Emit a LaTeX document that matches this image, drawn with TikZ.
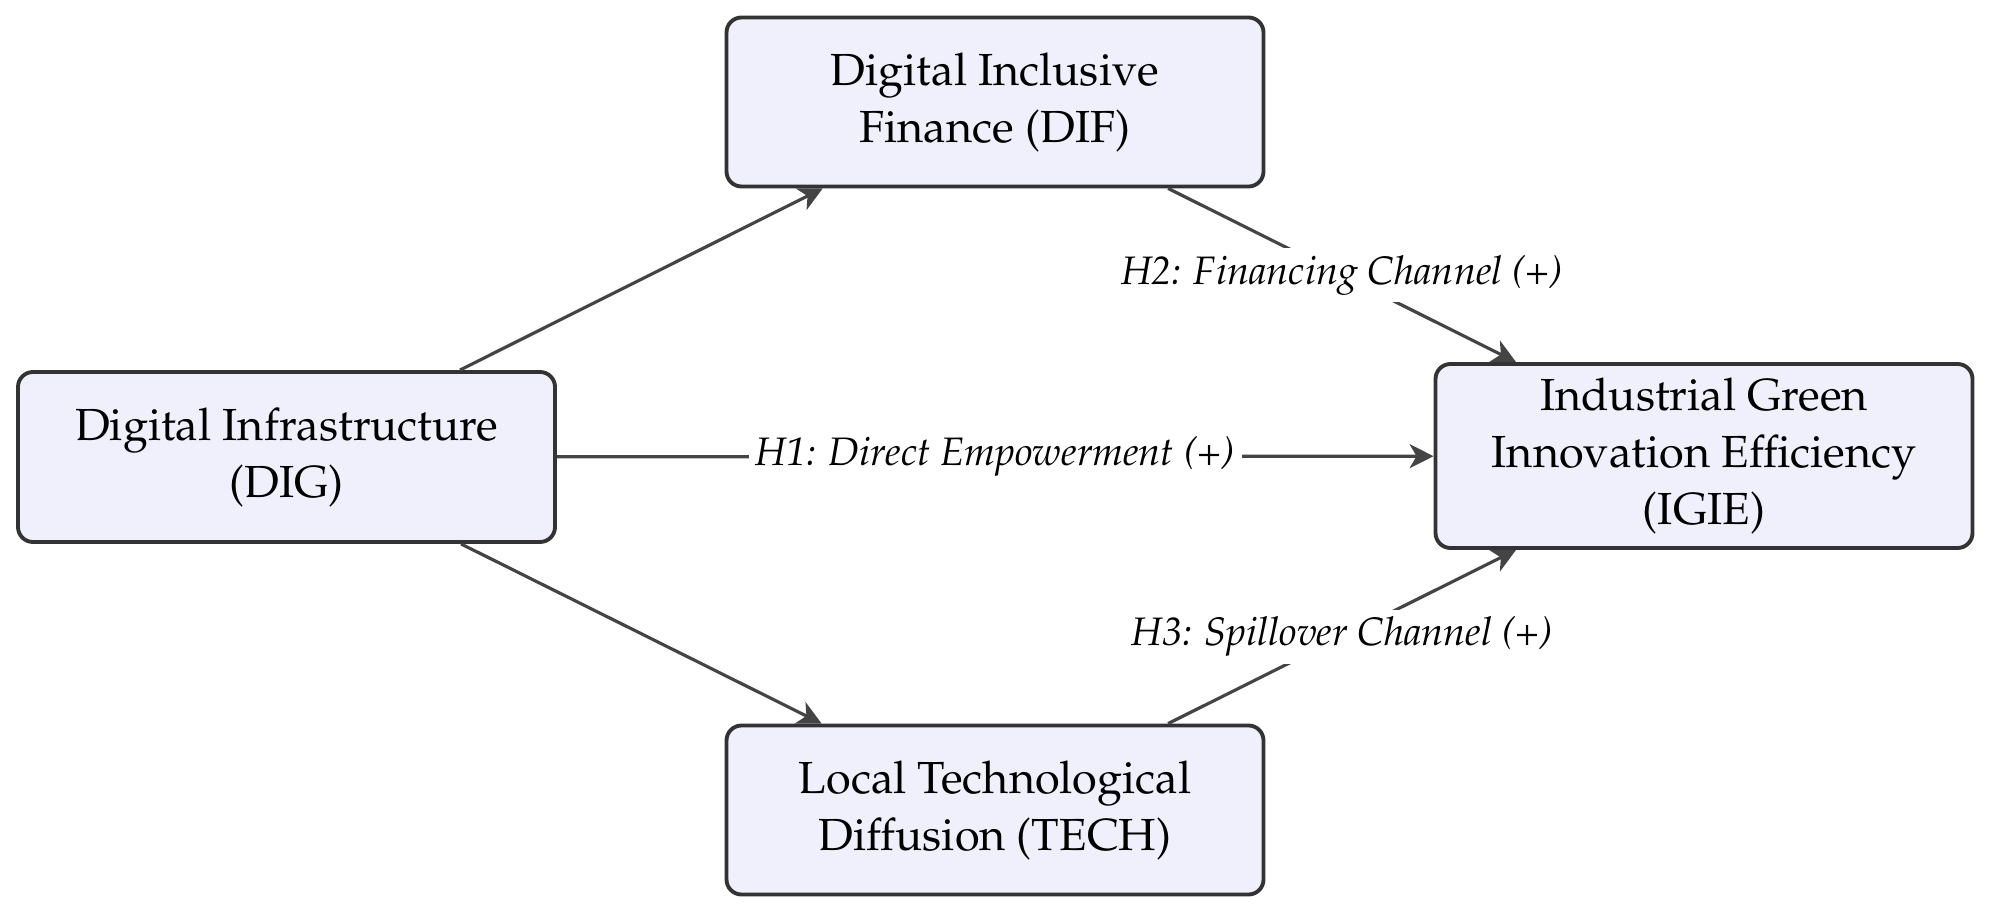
\documentclass[tikz,border=0pt]{standalone}
\usepackage[T1]{fontenc}
\usepackage{mathpazo}
\usetikzlibrary{arrows.meta}

\definecolor{boxfill}{HTML}{F0F0FC}
\definecolor{boxline}{HTML}{333333}
\definecolor{edgeline}{HTML}{444444}

\tikzset{
  factor/.style={draw=boxline, line width=1.1pt, fill=boxfill, rounded corners=0.15cm,
    minimum width=5.37cm, align=center, inner sep=0pt,
    font=\fontsize{12.8}{16.2}\selectfont},
  channel/.style={draw=edgeline, line width=0.9pt,
    -{Stealth[length=2.4mm,width=2.4mm,inset=0.7mm]}},
  hyp/.style={fill=white, inner sep=2pt, font=\fontsize{11.3}{14}\selectfont\itshape}
}

\begin{document}
\begin{tikzpicture}
    \useasboundingbox (0,0) rectangle (19.9,9.12);

    % Factor boxes
    \node[factor, minimum height=1.70cm] (dig) at (2.865,4.55) {Digital Infrastructure\\(DIG)};
    \node[factor, minimum height=1.69cm] (dif) at (9.95,8.10) {Digital Inclusive\\Finance (DIF)};
    \node[factor, minimum height=1.69cm] (tech) at (9.95,1.02) {Local Technological\\Diffusion (TECH)};
    \node[factor, minimum height=1.84cm] (igie) at (17.04,4.56) {Industrial Green\\Innovation Efficiency\\(IGIE)};

    % Channels
    \draw[channel] (dig) -- (dif);
    \draw[channel] (dig) -- (tech);
    \draw[channel] (dig) -- node[hyp] {H1: Direct Empowerment (+)} (igie);
    \draw[channel] (dif) -- node[hyp] {H2: Financing Channel (+)} (igie);
    \draw[channel] (tech) -- node[hyp] {H3: Spillover Channel (+)} (igie);
\end{tikzpicture}
\end{document}
